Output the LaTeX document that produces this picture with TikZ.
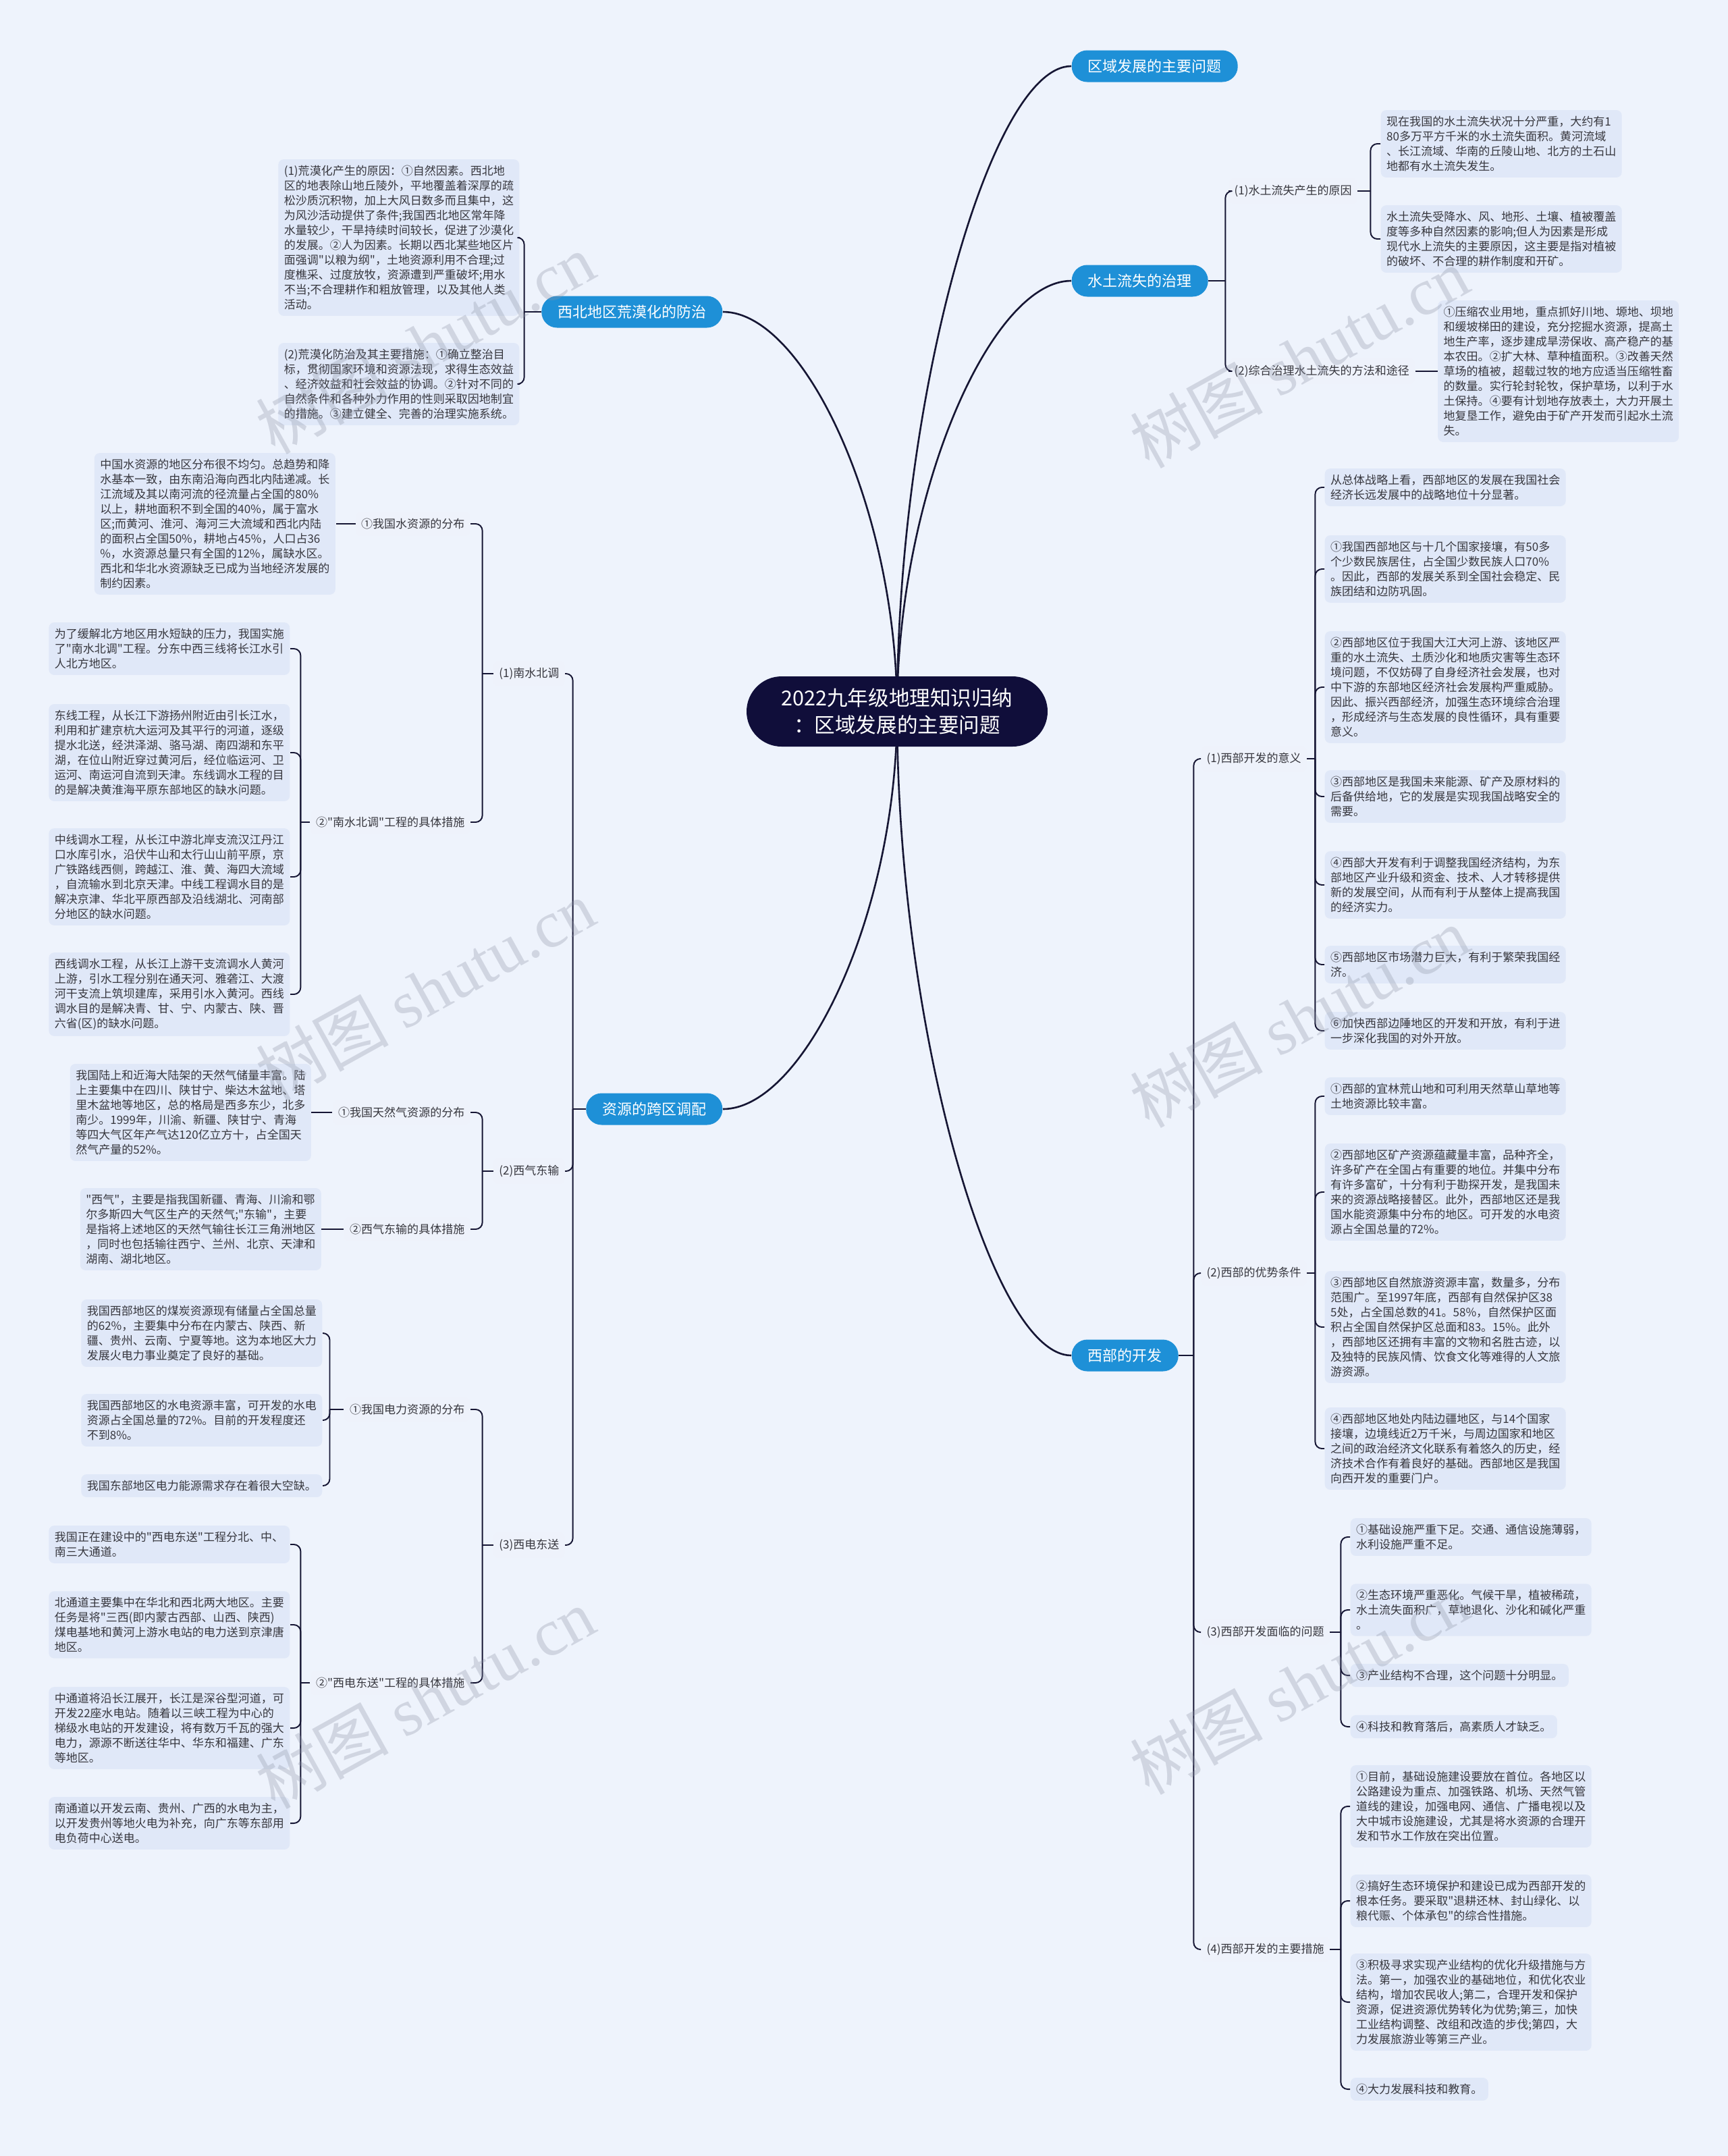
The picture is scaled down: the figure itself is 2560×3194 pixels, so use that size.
\documentclass[tikz,border=0pt]{standalone}
\usepackage{fontspec}
\setmainfont{Noto Sans CJK SC}[Ligatures=TeXOff]
\newfontfamily\wmserif{Liberation Serif}
\usepackage{tikz}
\usepackage{xcolor}
\usetikzlibrary{positioning, backgrounds}
\definecolor{bgblue}{RGB}{238,243,252}
\definecolor{leafblue}{RGB}{224,232,248}
\definecolor{branchblue}{RGB}{30,144,215}
\definecolor{rootnavy}{RGB}{16,14,58}
\definecolor{linknavy}{RGB}{22,22,52}
\definecolor{textgray}{RGB}{55,55,62}
\definecolor{wmgray}{RGB}{140,146,165}
\newcommand\leaffont{\fontsize{4.84pt}{6.26pt}\selectfont}
\newcommand\branchfont{\fontsize{6.26pt}{7.5pt}\selectfont}
\newcommand\rootfont{\fontsize{8.7pt}{11.4pt}\selectfont}
\newcommand\wmfont{\fontsize{28pt}{30pt}\selectfont}

\begin{document}
\begin{tikzpicture}[
  x=0.1mm, y=-0.1mm,
  root/.style={rectangle, rounded corners=5.2mm, fill=rootnavy, text=white,
               minimum width=44.6mm, minimum height=10.4mm, align=center, font=\rootfont},
  branch/.style={rectangle, rounded corners=2.3mm, fill=branchblue, text=white,
               minimum height=4.7mm, inner xsep=2.4mm, font=\branchfont},
  tag/.style={rectangle, rounded corners=0.8mm, fill=leafblue!55, text=textgray,
               inner xsep=0.8mm, inner ysep=1mm, font=\leaffont},
  card/.style={rectangle, rounded corners=0.8mm, fill=leafblue, text=textgray,
               inner xsep=0.85mm, inner ysep=0.9mm, font=\leaffont},
  leaf/.style={card, text width=34mm, align=left},
  link/.style={draw=linknavy, line width=0.55pt, rounded corners=1mm},
  trunk/.style={draw=linknavy, line width=0.75pt},
  wm/.style={text=wmgray, opacity=0.3, rotate=29, font=\wmfont}
]
\useasboundingbox (0,0) rectangle (2560,3194);
\begin{scope}[on background layer]
  \fill[bgblue] (0,0) rectangle (2560,3194);
\end{scope}

% root and main branches
\node[root] (root) at (1329,1054) {2022九年级地理知识归纳\\：区域发展的主要问题};
\node[branch, anchor=west] (goal) at (1587,98) {区域发展的主要问题};
\node[branch, anchor=west] (soil) at (1587,416) {水土流失的治理};
\node[branch, anchor=west] (dev) at (1587,2008) {西部的开发};
\node[branch, anchor=east] (desert) at (1071,462) {西北地区荒漠化的防治};
\node[branch, anchor=east] (transfer) at (1071,1643) {资源的跨区调配};

% 西北地区荒漠化的防治
\node[leaf, anchor=east] (dsCause) at (770,352) {(1)荒漠化产生的原因：①自然因素。西北地\\区的地表除山地丘陵外，平地覆盖着深厚的疏\\松沙质沉积物，加上大风日数多而且集中，这\\为风沙活动提供了条件;我国西北地区常年降\\水量较少，干旱持续时间较长，促进了沙漠化\\的发展。②人为因素。长期以西北某些地区片\\面强调"以粮为纲"，土地资源利用不合理;过\\度樵采、过度放牧，资源遭到严重破坏;用水\\不当;不合理耕作和粗放管理，以及其他人类\\活动。};
\node[leaf, anchor=east] (dsFix) at (770,569) {(2)荒漠化防治及其主要措施：①确立整治目\\标，贯彻国家环境和资源法现，求得生态效益\\、经济效益和社会效益的协调。②针对不同的\\自然条件和各种外力作用的性则采取因地制宜\\的措施。③建立健全、完善的治理实施系统。};

% 水土流失的治理
\node[tag, anchor=west] (soilWhy) at (1820,283) {(1)水土流失产生的原因};
\node[tag, anchor=west] (soilHow) at (1820,550) {(2)综合治理水土流失的方法和途径};
\node[leaf, anchor=west] (soilA) at (2045,213) {现在我国的水土流失状况十分严重，大约有1\\80多万平方千米的水土流失面积。黄河流域\\、长江流域、华南的丘陵山地、北方的土石山\\地都有水土流失发生。};
\node[leaf, anchor=west] (soilB) at (2045,354) {水土流失受降水、风、地形、土壤、植被覆盖\\度等多种自然因素的影响;但人为因素是形成\\现代水上流失的主要原因，这主要是指对植被\\的破坏、不合理的耕作制度和开矿。};
\node[leaf, right=3.3mm of soilHow] (soilC) {①压缩农业用地，重点抓好川地、塬地、坝地\\和缓坡梯田的建设，充分挖掘水资源，提高土\\地生产率，逐步建成旱涝保收、高产稳产的基\\本农田。②扩大林、草种植面积。③改善天然\\草场的植被，超载过牧的地方应适当压缩牲畜\\的数量。实行轮封轮牧，保护草场，以利于水\\土保持。④要有计划地存放表土，大力开展土\\地复垦工作，避免由于矿产开发而引起水土流\\失。};

% 资源的跨区调配
\node[tag, anchor=east] (tSN) at (837,998) {(1)南水北调};
\node[tag, anchor=east] (tWG) at (837,1735) {(2)西气东输};
\node[tag, anchor=east] (tWE) at (837,2289) {(3)西电东送};
\node[tag, anchor=east] (snDist) at (697,776) {①我国水资源的分布};
\node[tag, anchor=east] (snPlan) at (697,1218) {②"南水北调"工程的具体措施};
\node[tag, anchor=east] (gsDist) at (697,1648) {①我国天然气资源的分布};
\node[tag, anchor=east] (gsPlan) at (697,1821) {②西气东输的具体措施};
\node[tag, anchor=east] (elDist) at (697,2088) {①我国电力资源的分布};
\node[tag, anchor=east] (elPlan) at (697,2493) {②"西电东送"工程的具体措施};

\node[leaf, left=2.9mm of snDist] (sn0) {中国水资源的地区分布很不均匀。总趋势和降\\水基本一致，由东南沿海向西北内陆递减。长\\江流域及其以南河流的径流量占全国的80\%\\以上，耕地面积不到全国的40\%，属于富水\\区;而黄河、淮河、海河三大流域和西北内陆\\的面积占全国50\%，耕地占45\%，人口占36\\\%，水资源总量只有全国的12\%，属缺水区。\\西北和华北水资源缺乏已成为当地经济发展的\\制约因素。};
\node[leaf, anchor=east] (sn1) at (430,961) {为了缓解北方地区用水短缺的压力，我国实施\\了"南水北调"工程。分东中西三线将长江水引\\人北方地区。};
\node[leaf, anchor=east] (sn2) at (430,1115) {东线工程，从长江下游扬州附近由引长江水，\\利用和扩建京杭大运河及其平行的河道，逐级\\提水北送，经洪泽湖、骆马湖、南四湖和东平\\湖，在位山附近穿过黄河后，经位临运河、卫\\运河、南运河自流到天津。东线调水工程的目\\的是解决黄淮海平原东部地区的缺水问题。};
\node[leaf, anchor=east] (sn3) at (430,1299) {中线调水工程，从长江中游北岸支流汉江丹江\\口水库引水，沿伏牛山和太行山山前平原，京\\广铁路线西侧，跨越江、淮、黄、海四大流域\\，自流输水到北京天津。中线工程调水目的是\\解决京津、华北平原西部及沿线湖北、河南部\\分地区的缺水问题。};
\node[leaf, anchor=east] (sn4) at (430,1473) {西线调水工程，从长江上游干支流调水人黄河\\上游，引水工程分别在通天河、雅砻江、大渡\\河干支流上筑坝建库，采用引水入黄河。西线\\调水目的是解决青、甘、宁、内蒙古、陕、晋\\六省(区)的缺水问题。};
\node[leaf, left=3.1mm of gsDist] (gs1) {我国陆上和近海大陆架的天然气储量丰富。陆\\上主要集中在四川、陕甘宁、柴达木盆地、塔\\里木盆地等地区，总的格局是西多东少，北多\\南少。1999年，川渝、新疆、陕甘宁、青海\\等四大气区年产气达120亿立方十，占全国天\\然气产量的52\%。};
\node[leaf, left=3.3mm of gsPlan] (gs2) {"西气"，主要是指我国新疆、青海、川渝和鄂\\尔多斯四大气区生产的天然气;"东输"，主要\\是指将上述地区的天然气输往长江三角洲地区\\，同时也包括输往西宁、兰州、北京、天津和\\湖南、湖北地区。};
\node[leaf, anchor=east] (el1) at (478,1975) {我国西部地区的煤炭资源现有储量占全国总量\\的62\%，主要集中分布在内蒙古、陕西、新\\疆、贵州、云南、宁夏等地。这为本地区大力\\发展火电力事业奠定了良好的基础。};
\node[leaf, anchor=east] (el2) at (478,2104) {我国西部地区的水电资源丰富，可开发的水电\\资源占全国总量的72\%。目前的开发程度还\\不到8\%。};
\node[leaf, anchor=east] (el3) at (478,2201) {我国东部地区电力能源需求存在着很大空缺。};
\node[leaf, anchor=east] (we1) at (430,2288) {我国正在建设中的"西电东送"工程分北、中、\\南三大通道。};
\node[leaf, anchor=east] (we2) at (430,2407) {北通道主要集中在华北和西北两大地区。主要\\任务是将"三西(即内蒙古西部、山西、陕西)\\煤电基地和黄河上游水电站的电力送到京津唐\\地区。};
\node[leaf, anchor=east] (we3) at (430,2560) {中通道将沿长江展开，长江是深谷型河道，可\\开发22座水电站。随着以三峡工程为中心的\\梯级水电站的开发建设，将有数万千瓦的强大\\电力，源源不断送往华中、华东和福建、广东\\等地区。};
\node[leaf, anchor=east] (we4) at (430,2701) {南通道以开发云南、贵州、广西的水电为主，\\以开发贵州等地火电为补充，向广东等东部用\\电负荷中心送电。};

% 西部的开发
\node[tag, anchor=west] (devMean) at (1779,1124) {(1)西部开发的意义};
\node[tag, anchor=west] (devAdv) at (1779,1886) {(2)西部的优势条件};
\node[tag, anchor=west] (devProb) at (1779,2418) {(3)西部开发面临的问题};
\node[tag, anchor=west] (devWay) at (1779,2888) {(4)西部开发的主要措施};

\node[leaf, anchor=west] (mean0) at (1962,722) {从总体战略上看，西部地区的发展在我国社会\\经济长远发展中的战略地位十分显著。};
\node[leaf, anchor=west] (mean1) at (1962,843) {①我国西部地区与十几个国家接壤，有50多\\个少数民族居住，占全国少数民族人口70\%\\。因此，西部的发展关系到全国社会稳定、民\\族团结和边防巩固。};
\node[leaf, anchor=west] (mean2) at (1962,1018) {②西部地区位于我国大江大河上游、该地区严\\重的水土流失、土质沙化和地质灾害等生态环\\境问题，不仅妨碍了自身经济社会发展，也对\\中下游的东部地区经济社会发展构严重威胁。\\因此、振兴西部经济，加强生态环境综合治理\\，形成经济与生态发展的良性循环，具有重要\\意义。};
\node[leaf, anchor=west] (mean3) at (1962,1180) {③西部地区是我国未来能源、矿产及原材料的\\后备供给地，它的发展是实现我国战略安全的\\需要。};
\node[leaf, anchor=west] (mean4) at (1962,1311) {④西部大开发有利于调整我国经济结构，为东\\部地区产业升级和资金、技术、人才转移提供\\新的发展空间，从而有利于从整体上提高我国\\的经济实力。};
\node[leaf, anchor=west] (mean5) at (1962,1429) {⑤西部地区市场潜力巨大，有利于繁荣我国经\\济。};
\node[leaf, anchor=west] (mean6) at (1962,1527) {⑥加快西部边陲地区的开发和开放，有利于进\\一步深化我国的对外开放。};

\node[leaf, anchor=west] (adv1) at (1962,1624) {①西部的宜林荒山地和可利用天然草山草地等\\土地资源比较丰富。};
\node[leaf, anchor=west] (adv2) at (1962,1766) {②西部地区矿产资源蕴藏量丰富，品种齐全，\\许多矿产在全国占有重要的地位。并集中分布\\有许多富矿，十分有利于勘探开发，是我国未\\来的资源战略接替区。此外，西部地区还是我\\国水能资源集中分布的地区。可开发的水电资\\源占全国总量的72\%。};
\node[leaf, anchor=west] (adv3) at (1962,1966) {③西部地区自然旅游资源丰富，数量多，分布\\范围广。至1997年底，西部有自然保护区38\\5处，占全国总数的41。58\%，自然保护区面\\积占全国自然保护区总面和83。15\%。此外\\，西部地区还拥有丰富的文物和名胜古迹，以\\及独特的民族风情、饮食文化等难得的人文旅\\游资源。};
\node[leaf, anchor=west] (adv4) at (1962,2146) {④西部地区地处内陆边疆地区，与14个国家\\接壤，边境线近2万千米，与周边国家和地区\\之间的政治经济文化联系有着悠久的历史，经\\济技术合作有着良好的基础。西部地区是我国\\向西开发的重要门户。};

\node[leaf, anchor=west] (prob1) at (2000,2277) {①基础设施严重下足。交通、通信设施薄弱，\\水利设施严重不足。};
\node[leaf, anchor=west] (prob2) at (2000,2385) {②生态环境严重恶化。气候干旱，植被稀疏，\\水土流失面积广，草地退化、沙化和碱化严重\\。};
\node[card, anchor=west] (prob3) at (2000,2482) {③产业结构不合理，这个问题十分明显。};
\node[card, anchor=west] (prob4) at (2000,2558) {④科技和教育落后，高素质人才缺乏。};

\node[leaf, anchor=west] (way1) at (2000,2676) {①目前，基础设施建设要放在首位。各地区以\\公路建设为重点、加强铁路、机场、天然气管\\道线的建设，加强电网、通信、广播电视以及\\大中城市设施建设，尤其是将水资源的合理开\\发和节水工作放在突出位置。};
\node[leaf, anchor=west] (way2) at (2000,2816) {②搞好生态环境保护和建设已成为西部开发的\\根本任务。要采取"退耕还林、封山绿化、以\\粮代赈、个体承包"的综合性措施。};
\node[leaf, anchor=west] (way3) at (2000,2966) {③积极寻求实现产业结构的优化升级措施与方\\法。第一，加强农业的基础地位，和优化农业\\结构，增加农民收人;第二，合理开发和保护\\资源，促进资源优势转化为优势;第三，加快\\工业结构调整、改组和改造的步伐;第四，大\\力发展旅游业等第三产业。};
\node[card, anchor=west] (way4) at (2000,3095) {④大力发展科技和教育。};

% curves from the root
\begin{scope}[on background layer]
  \draw[trunk] (root.center) to[out=90, in=180, out distance=46mm, in distance=12mm] (goal.west);
  \draw[trunk] (root.center) to[out=90, in=180, out distance=32mm, in distance=12mm] (soil.west);
  \draw[trunk] (root.center) to[out=-90, in=180, out distance=46mm, in distance=12mm] (dev.west);
  \draw[trunk] (root.center) to[out=90, in=0, out distance=30mm, in distance=12mm] (desert.east);
  \draw[trunk] (root.center) to[out=-90, in=0, out distance=30mm, in distance=12mm] (transfer.east);
\end{scope}

% brackets
\draw[link] (desert.west) -- ++(-25,0) coordinate (jDesert);
\foreach \n in {dsCause, dsFix} \draw[link] (jDesert) |- (\n.east);

\draw[link] (soil.east) -- ++(25,0) coordinate (jSoil);
\foreach \n in {soilWhy, soilHow} \draw[link] (jSoil) |- (\n.west);
\draw[link] (soilWhy.east) -- ++(19,0) coordinate (jWhy);
\foreach \n in {soilA, soilB} \draw[link] (jWhy) |- (\n.west);
\draw[link] (soilHow) -- (soilC);

\draw[link] (transfer.west) -- ++(-19,0) coordinate (jTr);
\foreach \n in {tSN, tWG, tWE} \draw[link] (jTr) |- (\n.east);
\draw[link] (tSN.west) -- ++(-16,0) coordinate (jSN);
\foreach \n in {snDist, snPlan} \draw[link] (jSN) |- (\n.east);
\draw[link] (tWG.west) -- ++(-16,0) coordinate (jWG);
\foreach \n in {gsDist, gsPlan} \draw[link] (jWG) |- (\n.east);
\draw[link] (tWE.west) -- ++(-16,0) coordinate (jWE);
\foreach \n in {elDist, elPlan} \draw[link] (jWE) |- (\n.east);
\draw[link] (snDist) -- (sn0);
\draw[link] (snPlan.west) -- ++(-14,0) coordinate (jSNp);
\foreach \n in {sn1, sn2, sn3, sn4} \draw[link] (jSNp) |- (\n.east);
\draw[link] (gsDist) -- (gs1);
\draw[link] (gsPlan) -- (gs2);
\draw[link] (elDist.west) -- ++(-21,0) coordinate (jEl);
\foreach \n in {el1, el2, el3} \draw[link] (jEl) |- (\n.east);
\draw[link] (elPlan.west) -- ++(-14,0) coordinate (jElp);
\foreach \n in {we1, we2, we3, we4} \draw[link] (jElp) |- (\n.east);

\draw[link] (dev.east) -- ++(22,0) coordinate (jDev);
\foreach \n in {devMean, devAdv, devProb, devWay} \draw[link] (jDev) |- (\n.west);
\draw[link] (devMean.east) -- ++(12,0) coordinate (jMean);
\foreach \n in {mean0, mean1, mean2, mean3, mean4, mean5, mean6} \draw[link] (jMean) |- (\n.west);
\draw[link] (devAdv.east) -- ++(12,0) coordinate (jAdv);
\foreach \n in {adv1, adv2, adv3, adv4} \draw[link] (jAdv) |- (\n.west);
\draw[link] (devProb.east) -- ++(16,0) coordinate (jProb);
\foreach \n in {prob1, prob2, prob3, prob4} \draw[link] (jProb) |- (\n.west);
\draw[link] (devWay.east) -- ++(16,0) coordinate (jWay);
\foreach \n in {way1, way2, way3, way4} \draw[link] (jWay) |- (\n.west);

% watermarks
\node[wm] (wm1) at (630,509) {树图 {\wmserif shutu.cn}};
\node[wm] (wm2) at (1925,530) {树图 {\wmserif shutu.cn}};
\node[wm] (wm3) at (630,1467) {树图 {\wmserif shutu.cn}};
\node[wm] (wm4) at (1925,1507) {树图 {\wmserif shutu.cn}};
\node[wm] (wm5) at (630,2516) {树图 {\wmserif shutu.cn}};
\node[wm] (wm6) at (1925,2495) {树图 {\wmserif shutu.cn}};
\end{tikzpicture}
\end{document}
